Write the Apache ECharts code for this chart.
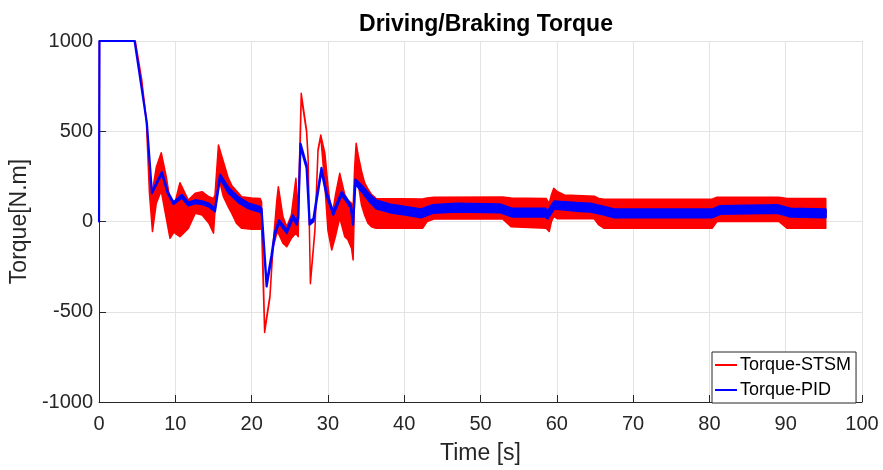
<!DOCTYPE html>
<html><head><meta charset="utf-8">
<script src="https://cdn.jsdelivr.net/npm/echarts@6/dist/echarts.min.js"></script>
<style>html,body{margin:0;padding:0;background:#fff}#c{width:883px;height:470px}</style>
</head><body><div id="c"></div>
<script>
// ---- data ----
const stsmTime  = [0,0.05,4.75,5.6,6.2,6.6,7.0,7.5,8.15,8.8,9.3,9.8,10.6,11.7,12.6,13.5,14.4,15.0,15.2,15.65,16.3,16.95,17.4,18.0,18.7,20.0,21.1,21.3,21.7,22.4,22.8,23.3,23.5,24.1,24.6,25.2,25.8,26.1,26.5,27.2,27.4,27.7,28.3,28.7,29.06,29.6,30.0,30.5,31.0,31.55,32.2,32.6,33.1,33.3,33.5,33.7,34.0,34.4,34.8,35.25,35.7,36.3,42.4,43.0,43.9,52.9,54.0,58.6,59.0,59.3,59.6,60.1,61.0,64.9,65.5,66.2,80.35,81.0,89.1,90.2,95.25];
const stsmUpper = [0,1000,1000,784,562,220,170,300,381,250,120,80,215,119,156,165,137,128,150,424,331,239,200,170,137,130,128,110,-600,-410,-135,119,193,27,-29,36,239,50,710,507,359,-335,-40,400,479,378,200,20,150,267,150,119,101,80,300,433,360,280,215,180,150,128,125,130,134,136,130,128,100,150,184,165,147,140,128,123,123,134,134,128,128];
const stsmLower = [0,1000,1000,780,556,160,-56,100,170,20,-93,-60,-84,-38,45,36,-10,-65,60,250,137,80,45,-10,-38,-43,-43,-30,-615,-420,-145,-65,-65,-120,-140,-93,-65,-84,690,495,345,-345,-50,390,470,200,-50,-158,-80,20,-84,-100,-150,-213,150,250,200,91,36,-10,-29,-38,-38,0,14,14,-29,-38,-56,0,27,15,15,15,-19,-38,-38,0,0,-38,-38];

const pidTime  = [0,0.05,4.66,6.27,6.93,7.4,8.24,9.0,9.76,10.85,11.7,12.6,13.5,14.4,15.2,15.86,16.95,18.3,19.6,21.1,21.3,21.96,22.6,23.05,23.6,24.6,25.4,25.9,26.1,26.4,27.2,27.6,28.1,28.5,29.15,29.8,30.7,31.8,32.6,33.0,33.3,33.6,34.4,35.5,36.3,38.1,40.3,42.2,43.75,46.8,52.5,54.2,58.5,58.8,59.65,63,64.4,66.2,67.5,80.4,81.4,88.9,90.6,95.25];
const pidUpper = [0,1000,1000,544,160,204,274,164,106,148,105,118,112,99,72,260,188,133,100,81,70,-344,-187,-57,8,-48,35,-2,35,432,312,-2,16,127,297,164,53,164,118,90,-2,233,200,148,117,95,80,67,91,99,95,71,72,56,111,102,99,82,67,67,86,91,71,67];
const pidLower = [0,1000,1000,544,156,196,266,156,96,132,89,102,96,83,56,240,160,105,72,53,50,-360,-203,-73,-8,-64,19,-18,19,416,296,-18,0,111,281,148,37,148,102,74,-18,209,168,108,73,51,36,23,47,55,51,27,28,16,71,58,55,38,23,23,42,47,27,23];

const xTickValues = [0,10,20,30,40,50,60,70,80,90,100];
const yTickValues = [-1000,-500,0,500,1000];
const seriesNames = ['Torque-STSM','Torque-PID'];

// ---- chart ----
const FONT = 'Liberation Sans';
const AX = '#262626';
function band(ts, hi, lo, color, lw) {
  return function (params, api) {
    const pts = [];
    for (let i = 0; i < ts.length; i++) pts.push(api.coord([ts[i], hi[i]]));
    for (let i = ts.length - 1; i >= 0; i--) pts.push(api.coord([ts[i], lo[i]]));
    return { type: 'polygon', shape: { points: pts },
      style: { fill: color, stroke: color, lineWidth: lw, lineJoin: 'round' }, silent: true };
  };
}
const chart = echarts.init(document.getElementById('c'), null, { renderer: 'canvas' });
chart.setOption({
  animation: false,
  backgroundColor: '#fff',
  title: { text: 'Driving/Braking Torque', left: 481, textAlign: 'center', top: 8,
    textStyle: { fontFamily: FONT, fontSize: 23, fontWeight: 'bold', color: '#000' } },
  grid: { left: 97, right: 21, top: 41, bottom: 68, containLabel: false },
  legend: {
    orient: 'vertical', left: 712, top: 352,
    data: [{ name: seriesNames[0], icon: 'rect' }, { name: seriesNames[1], icon: 'rect' }],
    itemWidth: 22, itemHeight: 2, itemGap: 5,
    padding: [3, 5, 3, 3],
    backgroundColor: '#fff', borderColor: AX, borderWidth: 1, borderRadius: 0,
    textStyle: { fontFamily: FONT, fontSize: 18, color: '#000', lineHeight: 20, padding: [0, 0, 0, -2] }
  },
  xAxis: {
    type: 'value', min: 0, max: 100, interval: 10,
    name: 'Time [s]', nameLocation: 'middle', nameGap: 40,
    nameTextStyle: { fontFamily: FONT, fontSize: 23, color: AX },
    axisLine: { show: true, onZero: false, lineStyle: { color: AX, width: 1 } },
    axisTick: { show: true, inside: true, length: 7, lineStyle: { color: AX } },
    axisLabel: { fontFamily: FONT, fontSize: 20, color: AX, margin: 12,
      formatter: v => xTickValues.includes(v) ? String(v) : '' },
    splitLine: { show: true, lineStyle: { color: '#e3e3e3', width: 1 } }
  },
  yAxis: {
    type: 'value', min: -1000, max: 1000, interval: 500,
    name: 'Torque[N.m]', nameLocation: 'middle', nameGap: 58,
    nameTextStyle: { fontFamily: FONT, fontSize: 23, color: AX },
    axisLine: { show: true, onZero: false, lineStyle: { color: AX, width: 1 } },
    axisTick: { show: true, inside: true, length: 7, lineStyle: { color: AX } },
    axisLabel: { fontFamily: FONT, fontSize: 20, color: AX, margin: 6,
      formatter: v => yTickValues.includes(v) ? String(v) : '' },
    splitLine: { show: true, lineStyle: { color: '#e3e3e3', width: 1 } }
  },
  series: [
    { name: seriesNames[0], type: 'custom', itemStyle: { color: '#ff0000' },
      renderItem: band(stsmTime, stsmUpper, stsmLower, '#ff0000', 1.5),
      data: [[stsmTime[0], stsmUpper[0]]], z: 2 },
    { name: seriesNames[1], type: 'custom', itemStyle: { color: '#0000ff' },
      renderItem: band(pidTime, pidUpper, pidLower, '#0000ff', 2.2),
      data: [[pidTime[0], pidUpper[0]]], z: 3 }
  ]
});
</script></body></html>
